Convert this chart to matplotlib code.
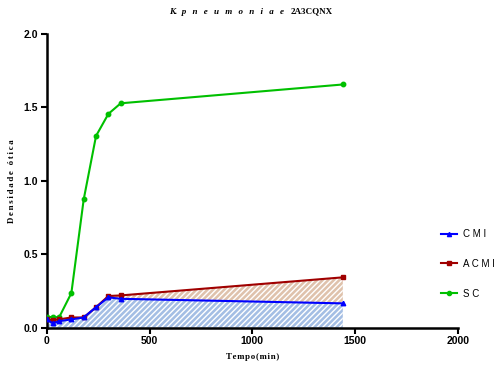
import matplotlib
matplotlib.use("Agg")
import matplotlib.pyplot as plt
from matplotlib.lines import Line2D

# Growth curves (optical density vs time)
tempo = [0, 30, 60, 120, 180, 240, 300, 360, 1440]
cmi = [0.057, 0.030, 0.045, 0.057, 0.070, 0.140, 0.207, 0.197, 0.166]
acmi = [0.057, 0.052, 0.057, 0.070, 0.070, 0.140, 0.216, 0.220, 0.343]
sc = [0.070, 0.075, 0.070, 0.236, 0.873, 1.305, 1.455, 1.527, 1.655]

series = ["CMI", "ACMI", "SC"]
colors = {"CMI": "#0000ff", "ACMI": "#a00000", "SC": "#00c000"}
markers = {"CMI": "^", "ACMI": "s", "SC": "o"}

xticks = [0, 500, 1000, 1500, 2000]
yticks = [0.0, 0.5, 1.0, 1.5, 2.0]

plt.rcParams["hatch.linewidth"] = 1.0

fig = plt.figure(figsize=(4.94, 3.65), dpi=100)
ax = fig.add_axes([0.0945, 0.102, 0.8326, 0.8055])

# shaded areas: below CMI, and between CMI and ACMI
ax.fill_between(tempo, 0, cmi, facecolor="#a4bee4", edgecolor="white",
                hatch="//////", linewidth=0, zorder=1)
ax.fill_between(tempo, cmi, acmi, facecolor="#dfc2ac", edgecolor="white",
                hatch="//////", linewidth=0, zorder=1)

data = {"CMI": cmi, "ACMI": acmi, "SC": sc}
for name in ["SC", "ACMI", "CMI"]:
    ax.plot(tempo, data[name], color=colors[name], marker=markers[name],
            markersize=3.2, linewidth=1.5, zorder=3)

ax.set_xlim(0, 2000)
ax.set_ylim(0, 2.0)
ax.set_xticks(xticks)
ax.set_yticks(yticks)
ax.set_xticklabels([str(t) for t in xticks])
ax.set_yticklabels([f"{t:.1f}" for t in yticks])

for s in ["top", "right"]:
    ax.spines[s].set_visible(False)
for s in ["left", "bottom"]:
    ax.spines[s].set_linewidth(1.8)
ax.tick_params(axis="both", direction="out", length=4, width=1.5,
               labelsize=7.5, pad=2)
for lbl in ax.get_xticklabels() + ax.get_yticklabels():
    lbl.set_fontweight("bold")
    lbl.set_fontfamily("Liberation Sans")

serif = ["Liberation Serif", "DejaVu Serif"]
thin = "\u2009"


def spaced(s, sep):
    return sep.join(s)


ax.set_xlabel(spaced("Tempo(min)", "\u200a"), fontsize=6.3, fontweight="bold",
              family=serif, labelpad=5)
ax.set_ylabel(spaced("Densidade ótica", thin), fontsize=6.3,
              fontweight="bold", family=serif, labelpad=6)

fig.text(0.575, 0.968, "K.  " + spaced("pneumoniae", "  " + thin),
         ha="right", va="center", fontsize=6.5, fontweight="bold",
         fontstyle="italic", family=serif)
fig.text(0.589, 0.968, "2A3CQNX", ha="left", va="center", fontsize=6.5,
         fontweight="bold", family=serif)

handles = [Line2D([0], [0], color=colors[n], marker=markers[n], markersize=3,
                  linewidth=1.5) for n in series]
labels = ["C M I", "A C M I", "S C"]
leg = fig.legend(handles, labels, loc="center left",
                 bbox_to_anchor=(0.875, 0.277), frameon=False,
                 prop={"family": "Liberation Sans", "size": 7},
                 labelspacing=2.05, handlelength=1.6, handletextpad=0.7)

fig.savefig("out.png", dpi=100)
